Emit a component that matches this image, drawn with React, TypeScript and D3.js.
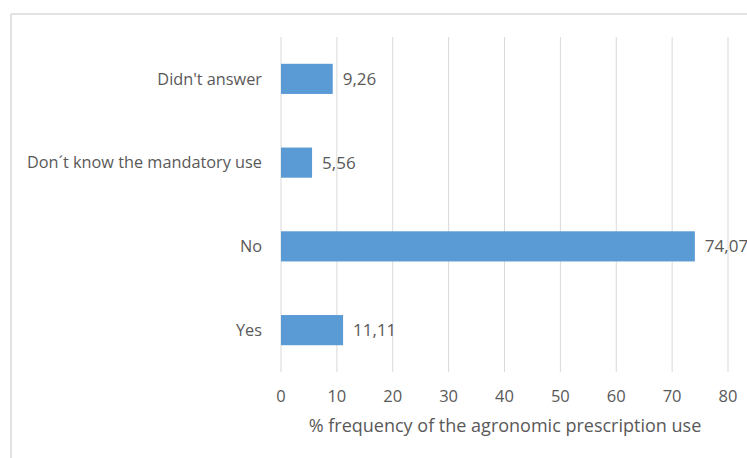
import React from "react";
import * as d3 from "d3";

const categories = ["Yes", "No", "Don´t know the mandatory use", "Didn't answer"];
const values = [11.11, 74.07, 5.56, 9.26];
const valueLabels = ["11,11", "74,07", "5,56", "9,26"];
const ticks = [0, 10, 20, 30, 40, 50, 60, 70, 80];
const axisTitle = "% frequency of the agronomic prescription use";

const W = 747;
const H = 458;
const FONT = "'Open Sans', sans-serif";
const TEXT = "#595959";

export default function App() {
  const left = 281;
  const right = 728;
  const top = 37;
  const bottom = 372;

  const x = d3.scaleLinear().domain([0, 80]).range([left, right]);
  const y = d3
    .scaleBand<string>()
    .domain([...categories].reverse())
    .range([top, bottom])
    .paddingInner(0.64)
    .paddingOuter(0.32);

  return (
    <svg
      width={W}
      height={H}
      style={{ position: "absolute", left: 0, top: 0, background: "#fff" }}
      fontFamily={FONT}
    >
      <rect x={0} y={0} width={W} height={H} fill="#fff" />
      <line x1={11} x2={W + 10} y1={14} y2={14} stroke="#d9d9d9" strokeWidth={1.5} />
      <line x1={11} x2={11} y1={14} y2={H + 10} stroke="#d9d9d9" strokeWidth={1.5} />

      {ticks.map((t) => (
        <line
          key={"g" + t}
          x1={x(t)}
          x2={x(t)}
          y1={top}
          y2={bottom}
          stroke="#d9d9d9"
          strokeWidth={1}
        />
      ))}

      {categories.map((c, i) => {
        const by = y(c)!;
        const bw = y.bandwidth();
        return (
          <g key={c}>
            <rect
              x={x(0)}
              y={by}
              width={x(values[i]) - x(0)}
              height={bw}
              fill="#5B9BD5"
            />
            <text
              x={x(values[i]) + 10}
              y={by + bw / 2}
              dy="0.35em"
              fontSize={17}
              fill={TEXT}
            >
              {valueLabels[i]}
            </text>
            <text
              x={262}
              y={by + bw / 2}
              dy="0.35em"
              textAnchor="end"
              fontSize={16.3}
              fill={TEXT}
            >
              {c}
            </text>
          </g>
        );
      })}

      {ticks.map((t) => (
        <text
          key={"t" + t}
          x={x(t)}
          y={396}
          dy="0.35em"
          textAnchor="middle"
          fontSize={16.5}
          fill={TEXT}
        >
          {t}
        </text>
      ))}

      <text
        x={505}
        y={426}
        dy="0.35em"
        textAnchor="middle"
        fontSize={18}
        fill={TEXT}
      >
        {axisTitle}
      </text>
    </svg>
  );
}
